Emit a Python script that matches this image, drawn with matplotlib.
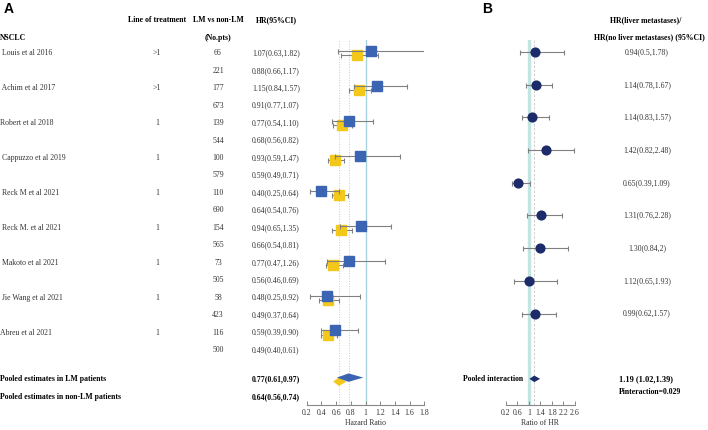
import numpy as np
import matplotlib.pyplot as plt
from matplotlib.transforms import blended_transform_factory
from matplotlib.patches import Polygon

plt.rcParams["font.family"] = ["Liberation Serif", "DejaVu Serif"]

# --- Panel A data: LM vs non-LM hazard ratios ---
studies = [" Louis et al 2016", " Achim et al 2017", "Robert et al 2018",
           " Cappuzzo et al 2019", " Reck M et al 2021", " Reck M. et al 2021",
           " Makoto et al 2021", " Jie Wang et al 2021", "Abreu et al 2021"]
line_tx = [">1", ">1", "1", "1", "1", "1", "1", "1", "1"]
n_lm = [66, 177, 139, 100, 110, 154, 73, 58, 116]
n_non = [221, 673, 544, 579, 690, 565, 505, 423, 500]
hr_lm = [1.07, 1.15, 0.77, 0.93, 0.40, 0.94, 0.77, 0.48, 0.59]
lo_lm = [0.63, 0.84, 0.54, 0.59, 0.25, 0.65, 0.47, 0.25, 0.39]
hi_lm = [1.82, 1.57, 1.10, 1.47, 0.64, 1.35, 1.26, 0.92, 0.90]
hr_non = [0.88, 0.91, 0.68, 0.59, 0.64, 0.66, 0.56, 0.49, 0.49]
lo_non = [0.66, 0.77, 0.56, 0.49, 0.54, 0.54, 0.46, 0.37, 0.40]
hi_non = [1.17, 1.07, 0.82, 0.71, 0.76, 0.81, 0.69, 0.64, 0.61]
pooled_lm = [0.77, 0.61, 0.97]
pooled_non = [0.64, 0.56, 0.74]
ticks_a = [0.2, 0.4, 0.6, 0.8, 1.0, 1.2, 1.4, 1.6, 1.8]
ticklabels_a = ["0.2", "0.4", "0.6", "0.8", "1", "1.2", "1.4", "1.6", "1.8"]

# --- Panel B data: ratio of HR (positions as drawn in the figure) ---
ratio_pt = [1.22, 1.26, 1.12, 1.58, 0.64, 1.41, 1.38, 1.00, 1.20]
ratio_lo = [0.68, 0.89, 0.76, 0.97, 0.41, 0.95, 0.81, 0.49, 0.75]
ratio_hi = [2.22, 1.80, 1.70, 2.57, 1.03, 2.16, 2.35, 1.99, 1.93]
ratio_labels = ["0.94(0.5,1.78)", "1.14(0.78,1.67)", "1.14(0.83,1.57)",
                "1.42(0.82,2.48)", "0.65(0.39,1.09)", "1.31(0.76,2.28)",
                "1.30(0.84,2)", "1.12(0.65,1.93)", "0.99(0.62,1.57)"]
pooled_ratio = [1.19, 1.02, 1.39]
ticks_b = [0.2, 0.6, 1.0, 1.4, 1.8, 2.2, 2.6]
ticklabels_b = ["0.2", "0.6", "1", "1.4", "1.8", "2.2", "2.6"]

BLUE = "#3b64b3"
YELLOW = "#f3c81a"
NAVY = "#1c2b69"
GREY = "#808080"
FS = 5.55

W, H = 708, 430
fig = plt.figure(figsize=(W / 100, H / 100), dpi=100)


def fx(x):
    return x / W


def fy(y):
    return 1 - y / H


def style_axis(ax, ticks, labels, xlabel):
    for s in ("top", "left", "right"):
        ax.spines[s].set_visible(False)
    ax.spines["bottom"].set_color("#888888")
    ax.spines["bottom"].set_linewidth(0.8)
    ax.set_yticks([])
    ax.set_xticks(ticks)
    ax.set_xticklabels(labels)
    ax.tick_params(axis="x", direction="in", length=3, width=0.7, color="#888888",
                   labelsize=FS, labelcolor="#333333", pad=3)
    ax.set_xlabel(xlabel, fontsize=FS, color="#333333", labelpad=1)
    ax.patch.set_alpha(0)


def diamond(ax, est, lo, hi, y, h, color, z):
    ax.add_patch(Polygon([(lo, y), (est, y - h), (hi, y), (est, y + h)],
                         closed=True, color=color, lw=0, zorder=z))


# --- Panel A ---
axA = fig.add_axes([fx(306.7), fy(405), (424.3 - 306.7) / W, (405 - 40) / H])
axA.set_xlim(0.2, 1.8)
axA.set_ylim(20.15, -0.76)
style_axis(axA, ticks_a, ticklabels_a, "Hazard Ratio")

axA.axvline(1, color="#a9d4df", lw=1, zorder=1)
axA.axvline(pooled_non[0], color="#c8c8c8", lw=0.7, ls=":", zorder=1)
axA.axvline(pooled_lm[0], color="#c8c8c8", lw=0.7, ls=":", zorder=1)

rows = np.arange(len(studies)) * 2
hr_non_a, hr_lm_a = np.array(hr_non), np.array(hr_lm)
axA.errorbar(hr_non_a, rows + 0.12,
             xerr=[hr_non_a - np.array(lo_non), np.array(hi_non) - hr_non_a],
             fmt="none", ecolor=GREY, elinewidth=0.8, capsize=1.8, capthick=0.8, zorder=2)
axA.plot(hr_non_a, rows + 0.12, "s", color=YELLOW, ms=6.5, mec=YELLOW, zorder=3)
axA.errorbar(hr_lm_a, rows - 0.12,
             xerr=[hr_lm_a - np.array(lo_lm), np.array(hi_lm) - hr_lm_a],
             fmt="none", ecolor=GREY, elinewidth=0.8, capsize=1.8, capthick=0.8, zorder=4)
axA.plot(hr_lm_a, rows - 0.12, "s", color=BLUE, ms=6.5, mec=BLUE, zorder=5)

pool_row = 18.68
diamond(axA, pooled_non[0], pooled_non[1], pooled_non[2], pool_row + 0.13, 0.25, YELLOW, 3)
diamond(axA, pooled_lm[0], pooled_lm[1], pooled_lm[2], pool_row - 0.1, 0.24, BLUE, 5)

trA = blended_transform_factory(fig.transFigure, axA.transData)
txt = dict(fontsize=FS, color="#333333", va="center")
for i, name in enumerate(studies):
    r = 2 * i
    fig.text(fx(0), r, name, transform=trA, ha="left", **txt)
    fig.text(fx(157), r, line_tx[i], transform=trA, ha="center", **txt)
    fig.text(fx(218), r, str(n_lm[i]), transform=trA, ha="center", **txt)
    fig.text(fx(218), r + 1, str(n_non[i]), transform=trA, ha="center", **txt)
    fig.text(fx(276), r, f"{hr_lm[i]:.2f}({lo_lm[i]:.2f},{hi_lm[i]:.2f})",
             transform=trA, ha="center", **txt)
    fig.text(fx(276), r + 1, f"{hr_non[i]:.2f}({lo_non[i]:.2f},{hi_non[i]:.2f})",
             transform=trA, ha="center", **txt)

bold = dict(fontsize=FS, color="black", va="center", fontweight="bold")
fig.text(fx(0), pool_row, "Pooled estimates in LM patients", transform=trA, ha="left", **bold)
fig.text(fx(0), pool_row + 1, "Pooled estimates in non-LM patients", transform=trA, ha="left", **bold)
fig.text(fx(276), pool_row, "{:.2f}({:.2f},{:.2f})".format(*pooled_lm), transform=trA,
         ha="center", **bold)
fig.text(fx(276), pool_row + 1, "{:.2f}({:.2f},{:.2f})".format(*pooled_non), transform=trA,
         ha="center", **bold)

fig.text(fx(157), fy(20), "Line of treatment", ha="center", **bold)
fig.text(fx(218), fy(20), "LM vs non-LM", ha="center", **bold)
fig.text(fx(276), fy(20), "HR(95%CI)", ha="center", **bold)
fig.text(fx(0), fy(38), "NSCLC", ha="left", **bold)
fig.text(fx(218), fy(38), "(No.pts)", ha="center", **bold)

fig.text(fx(4), fy(9), "A", fontsize=10, fontweight="bold", family="Liberation Sans",
         ha="left", va="center")
fig.text(fx(482), fy(9), "B", fontsize=10, fontweight="bold", family="Liberation Sans",
         ha="left", va="center")

# --- Panel B ---
axB = fig.add_axes([fx(505.7), fy(405), (575 - 505.7) / W, (405 - 40) / H])
axB.set_xlim(0.2, 2.6)
axB.set_ylim(10.8, -0.37)
style_axis(axB, ticks_b, ticklabels_b, "Ratio of HR")

axB.axvline(1, color="#c3e5e2", lw=2.4, zorder=1)
axB.axvline(pooled_ratio[0], color="#c8c8c8", lw=0.6, ls=(0, (3, 2)), zorder=1)

rows_b = np.arange(len(ratio_pt))
pt = np.array(ratio_pt)
axB.errorbar(pt, rows_b, xerr=[pt - np.array(ratio_lo), np.array(ratio_hi) - pt],
             fmt="none", ecolor=GREY, elinewidth=0.8, capsize=1.8, capthick=0.8, zorder=2)
axB.plot(pt, rows_b, "o", color=NAVY, ms=6.3, mec=NAVY, zorder=3)
diamond(axB, pooled_ratio[0], pooled_ratio[1], pooled_ratio[2], 10, 0.1, NAVY, 3)

trB = blended_transform_factory(fig.transFigure, axB.transData)
for i, lab in enumerate(ratio_labels):
    fig.text(fx(647), i, lab, transform=trB, ha="center", **txt)

fig.text(fx(523), 10, "Pooled interaction", transform=trB, ha="right", **bold)
fig.text(fx(646), 10, "{} ({},{})".format(*pooled_ratio), transform=trB, ha="center",
         **dict(bold, fontsize=6))
fig.text(fx(650), 10.39, "Pinteraction=0.029", transform=trB, ha="center", **bold)
fig.text(fx(646), fy(20), "HR(liver metastases)/", ha="center", **bold)
fig.text(fx(649), fy(36.7), "HR(no liver metastases) (95%CI)", ha="center", **bold)

fig.savefig("out.png", dpi=100)
